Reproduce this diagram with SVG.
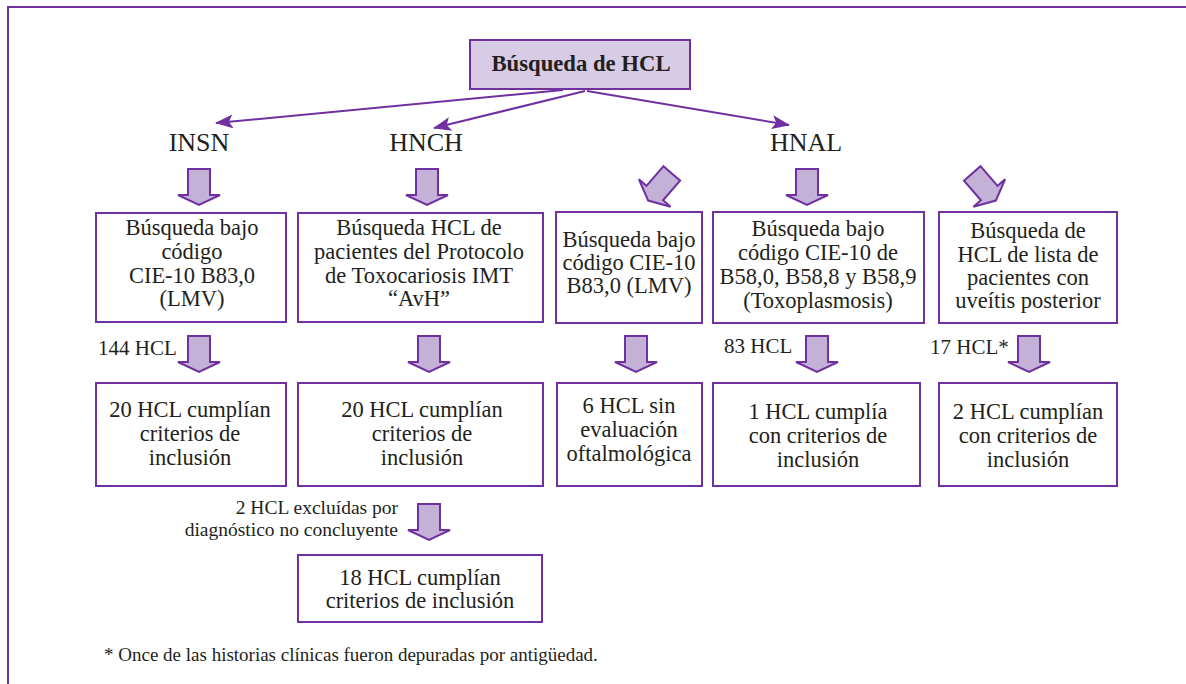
<svg xmlns="http://www.w3.org/2000/svg" width="1186" height="684" viewBox="0 0 1186 684">
<style>
  .frame { fill: none; stroke: #7030a0; stroke-width: 2; }
  .box { fill: #ffffff; stroke: #7030a0; stroke-width: 2; }
  .top { fill: #d7cbe5; stroke: #7030a0; stroke-width: 2; }
  .blk { fill: #c4b1d8; stroke: #7030a0; stroke-width: 2; stroke-linejoin: miter; }
  .conn { fill: none; stroke: #7030a0; stroke-width: 2; }
  text { font-family: "Liberation Serif", "Times New Roman", serif; fill: #231f20; }
  .t { font-size: 22.5px; text-anchor: middle; }
  .h { font-size: 26px; text-anchor: middle; }
  .lbl { font-size: 21px; }
  .lblr { font-size: 19.5px; text-anchor: end; }
  .foot { font-size: 19px; }
  .title { font-size: 22.7px; font-weight: bold; text-anchor: middle; }
</style>
<defs>
  <marker id="ah" markerUnits="userSpaceOnUse" markerWidth="18" markerHeight="14" viewBox="0 0 18 14" refX="17" refY="7" orient="auto">
    <path d="M0,0 L18,7 L0,14 L4,7 Z" fill="#7030a0"/>
  </marker>
  <path id="darrow" d="M-11,-18 H11 V8 H21 L0,18 L-21,8 H-11 Z"/>
</defs>

<path class="frame" d="M8,684 V7 H1186"/>

<g id="root">
  <rect class="top" x="470" y="40" width="220" height="49"/>
  <text class="title" x="581" y="71">Búsqueda de HCL</text>
</g>

<g id="connectors">
  <line class="conn" x1="563" y1="90" x2="216" y2="123" marker-end="url(#ah)"/>
  <line class="conn" x1="585" y1="91" x2="434" y2="128" marker-end="url(#ah)"/>
  <line class="conn" x1="587" y1="91" x2="789" y2="125" marker-end="url(#ah)"/>
  <use href="#darrow" class="blk" transform="translate(199,187)"/>
  <use href="#darrow" class="blk" transform="translate(427,187)"/>
  <use href="#darrow" class="blk" transform="translate(660,187) rotate(41)"/>
  <use href="#darrow" class="blk" transform="translate(807,187)"/>
  <use href="#darrow" class="blk" transform="translate(984,187) rotate(-41)"/>
  <use href="#darrow" class="blk" transform="translate(199,354)"/>
  <use href="#darrow" class="blk" transform="translate(429,354)"/>
  <use href="#darrow" class="blk" transform="translate(636,354)"/>
  <use href="#darrow" class="blk" transform="translate(817,354)"/>
  <use href="#darrow" class="blk" transform="translate(1029,354)"/>
  <use href="#darrow" class="blk" transform="translate(429,522)"/>
</g>

<g id="insn"><text class="h" x="199" y="151">INSN</text></g>
<g id="hnch"><text class="h" x="426" y="151">HNCH</text></g>
<g id="hnal"><text class="h" x="806" y="151">HNAL</text></g>

<g id="b1">
  <rect class="box" x="96" y="213" width="190" height="109"/>
  <text class="t" x="192" y="235">Búsqueda bajo</text>
  <text class="t" x="192" y="259">código</text>
  <text class="t" x="192" y="283">CIE-10 B83,0</text>
  <text class="t" x="192" y="306">(LMV)</text>
</g>
<g id="b2">
  <rect class="box" x="298" y="213" width="245" height="109"/>
  <text class="t" x="419" y="235">Búsqueda HCL de</text>
  <text class="t" x="419" y="259">pacientes del Protocolo</text>
  <text class="t" x="419" y="283">de Toxocariosis IMT</text>
  <text class="t" x="419" y="306">“AvH”</text>
</g>
<g id="b3">
  <rect class="box" x="556" y="212" width="146" height="111"/>
  <text class="t" x="629" y="247">Búsqueda bajo</text>
  <text class="t" x="629" y="270">código CIE-10</text>
  <text class="t" x="629" y="293">B83,0 (LMV)</text>
</g>
<g id="b4">
  <rect class="box" x="713" y="212" width="211" height="111"/>
  <text class="t" x="818" y="236">Búsqueda bajo</text>
  <text class="t" x="818" y="260">código CIE-10 de</text>
  <text class="t" x="818" y="284">B58,0, B58,8 y B58,9</text>
  <text class="t" x="818" y="308">(Toxoplasmosis)</text>
</g>
<g id="b5">
  <rect class="box" x="939" y="212" width="178" height="111"/>
  <text class="t" x="1028" y="238">Búsqueda de</text>
  <text class="t" x="1028" y="262">HCL de lista de</text>
  <text class="t" x="1028" y="285">pacientes con</text>
  <text class="t" x="1028" y="308">uveítis posterior</text>
</g>

<g id="lbl144"><text class="lbl" x="98" y="355">144 HCL</text></g>
<g id="lbl83"><text class="lbl" x="724" y="353">83 HCL</text></g>
<g id="lbl17"><text class="lbl" x="930" y="354">17 HCL*</text></g>

<g id="r1">
  <rect class="box" x="96" y="383" width="190" height="103"/>
  <text class="t" x="190" y="417">20 HCL cumplían</text>
  <text class="t" x="190" y="441">criterios de</text>
  <text class="t" x="190" y="465">inclusión</text>
</g>
<g id="r2">
  <rect class="box" x="298" y="383" width="245" height="103"/>
  <text class="t" x="422" y="417">20 HCL cumplían</text>
  <text class="t" x="422" y="441">criterios de</text>
  <text class="t" x="422" y="465">inclusión</text>
</g>
<g id="r3">
  <rect class="box" x="557" y="383" width="145" height="103"/>
  <text class="t" x="629" y="413">6 HCL sin</text>
  <text class="t" x="629" y="437">evaluación</text>
  <text class="t" x="629" y="461">oftalmológica</text>
</g>
<g id="r4">
  <rect class="box" x="713" y="383" width="207" height="103"/>
  <text class="t" x="818" y="419">1 HCL cumplía</text>
  <text class="t" x="818" y="443">con criterios de</text>
  <text class="t" x="818" y="467">inclusión</text>
</g>
<g id="r5">
  <rect class="box" x="939" y="383" width="178" height="103"/>
  <text class="t" x="1028" y="419">2 HCL cumplían</text>
  <text class="t" x="1028" y="443">con criterios de</text>
  <text class="t" x="1028" y="467">inclusión</text>
</g>

<g id="lblexcl">
  <text class="lblr" x="398" y="514">2 HCL excluídas por</text>
  <text class="lblr" x="398" y="536">diagnóstico no concluyente</text>
</g>

<g id="r6">
  <rect class="box" x="298" y="555" width="244" height="67"/>
  <text class="t" x="420" y="585">18 HCL cumplían</text>
  <text class="t" x="420" y="608">criterios de inclusión</text>
</g>

<g id="footnote"><text class="foot" x="104" y="661">* Once de las historias clínicas fueron depuradas por antigüedad.</text></g>
</svg>
